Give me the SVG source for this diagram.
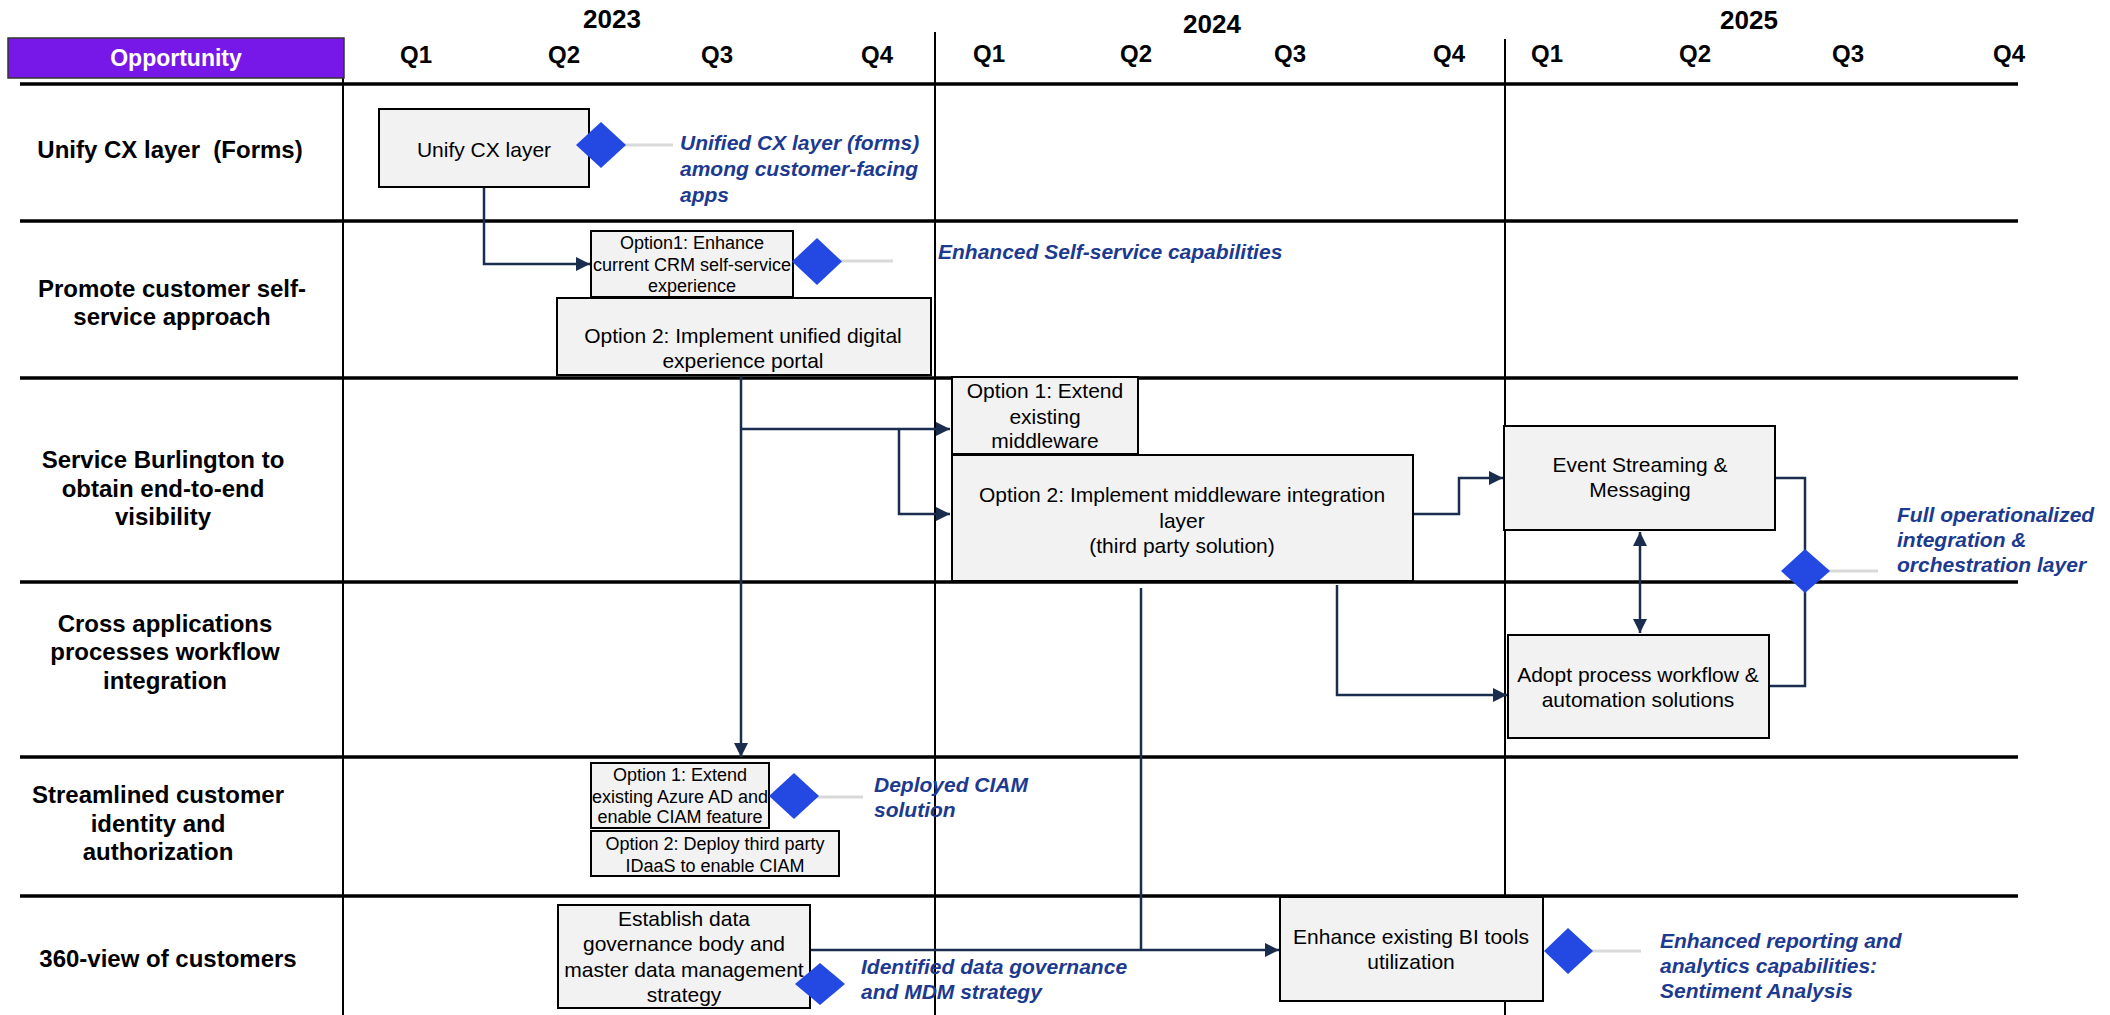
<svg xmlns="http://www.w3.org/2000/svg" width="2110" height="1015" viewBox="0 0 2110 1015">
<style>
text{font-family:"Liberation Sans",Arial,sans-serif}
.yr{font-size:26px;font-weight:bold;fill:#000;text-anchor:middle}
.q{font-size:24px;font-weight:bold;fill:#000;text-anchor:middle}
.lbl{font-size:24px;font-weight:bold;fill:#000;text-anchor:middle}
.bx{fill:#F2F2F2;stroke:#000;stroke-width:2}
.bt{font-size:21px;fill:#000;text-anchor:middle}
.st{font-size:18px;fill:#000;text-anchor:middle}
.ms{font-size:21px;font-weight:bold;font-style:italic;fill:#1C3A8F}
.dm{fill:#2349E2}
.gl{stroke:#D9D9D9;stroke-width:3}
.hl{stroke:#000;stroke-width:3.5}
.vl{stroke:#000;stroke-width:2}
.cn{fill:none;stroke:#1B2D4F;stroke-width:2.5}
</style>
<defs>
<marker id="arr" viewBox="0 0 10 10" refX="10" refY="5" markerWidth="14" markerHeight="15" markerUnits="userSpaceOnUse" orient="auto-start-reverse">
<path d="M0,0 L10,5 L0,10 z" fill="#1B2D4F"/>
</marker>
</defs>
<rect width="2110" height="1015" fill="#fff"/>

<g id="grid">
<line class="hl" x1="20" y1="84" x2="2018" y2="84"/>
<line class="hl" x1="20" y1="221" x2="2018" y2="221"/>
<line class="hl" x1="20" y1="378" x2="2018" y2="378"/>
<line class="hl" x1="20" y1="582" x2="2018" y2="582"/>
<line class="hl" x1="20" y1="757" x2="2018" y2="757"/>
<line class="hl" x1="20" y1="896" x2="2018" y2="896"/>
<line class="vl" x1="343" y1="78" x2="343" y2="1015"/>
<line class="vl" x1="935" y1="32" x2="935" y2="1015"/>
<line class="vl" x1="1505" y1="39" x2="1505" y2="1015"/>
</g>

<g id="header">
<rect x="8" y="38" width="336" height="40" fill="#7718E8" stroke="#333" stroke-width="1.5"/>
<text x="176" y="66" font-size="23" font-weight="bold" fill="#fff" text-anchor="middle">Opportunity</text>
<text class="yr" x="612" y="28">2023</text>
<text class="yr" x="1212" y="33">2024</text>
<text class="yr" x="1749" y="29">2025</text>
<text class="q" x="416" y="63">Q1</text>
<text class="q" x="564" y="63">Q2</text>
<text class="q" x="717" y="63">Q3</text>
<text class="q" x="877" y="63">Q4</text>
<text class="q" x="989" y="62">Q1</text>
<text class="q" x="1136" y="62">Q2</text>
<text class="q" x="1290" y="62">Q3</text>
<text class="q" x="1449" y="62">Q4</text>
<text class="q" x="1547" y="62">Q1</text>
<text class="q" x="1695" y="62">Q2</text>
<text class="q" x="1848" y="62">Q3</text>
<text class="q" x="2009" y="62">Q4</text>
</g>

<g id="row-labels">
<text class="lbl" x="170" y="158" xml:space="preserve">Unify CX layer  (Forms)</text>
<text class="lbl" x="172" y="297">Promote customer self-</text>
<text class="lbl" x="172" y="325">service approach</text>
<text class="lbl" x="163" y="468">Service Burlington to</text>
<text class="lbl" x="163" y="497">obtain end-to-end</text>
<text class="lbl" x="163" y="525">visibility</text>
<text class="lbl" x="165" y="632">Cross applications</text>
<text class="lbl" x="165" y="660">processes workflow</text>
<text class="lbl" x="165" y="689">integration</text>
<text class="lbl" x="158" y="803">Streamlined customer</text>
<text class="lbl" x="158" y="832">identity and</text>
<text class="lbl" x="158" y="860">authorization</text>
<text class="lbl" x="168" y="967">360-view of customers</text>
</g>

<g id="connectors">
<path class="cn" d="M484,187 V264 H590" marker-end="url(#arr)"/>
<path class="cn" d="M741,376 V757" marker-end="url(#arr)"/>
<path class="cn" d="M741,429 H950" marker-end="url(#arr)"/>
<path class="cn" d="M899,429 V514 H950" marker-end="url(#arr)"/>
<path class="cn" d="M1413,514 H1459 V478 H1503" marker-end="url(#arr)"/>
<path class="cn" d="M1337,585 V695 H1507" marker-end="url(#arr)"/>
<path class="cn" d="M1640,532 V633" marker-start="url(#arr)" marker-end="url(#arr)"/>
<path class="cn" d="M1775,478 H1805 V686 H1769"/>
<path class="cn" d="M1141,588 V950"/>
<path class="cn" d="M810,950 H1279" marker-end="url(#arr)"/>
</g>

<g id="milestone-lines">
<line class="gl" x1="620" y1="145" x2="673" y2="145"/>
<line class="gl" x1="835" y1="261" x2="893" y2="261"/>
<line class="gl" x1="1820" y1="571" x2="1878" y2="571"/>
<line class="gl" x1="810" y1="797" x2="863" y2="797"/>
<line class="gl" x1="1585" y1="951" x2="1641" y2="951"/>
</g>

<g id="n-unify">
<rect class="bx" x="379" y="109" width="210" height="78"/>
<text class="bt" x="484" y="157">Unify CX layer</text>
</g>
<g id="n-opt1-crm">
<rect class="bx" x="591" y="231" width="202" height="66"/>
<text class="st" x="692" y="249">Option1: Enhance</text>
<text class="st" x="692" y="271">current CRM self-service</text>
<text class="st" x="692" y="292">experience</text>
</g>
<g id="n-opt2-portal">
<rect class="bx" x="557" y="298" width="374" height="77"/>
<text class="bt" x="743" y="343">Option 2: Implement unified digital</text>
<text class="bt" x="743" y="368">experience portal</text>
</g>
<g id="n-opt1-mw">
<rect class="bx" x="952" y="377" width="186" height="77"/>
<text class="bt" x="1045" y="398">Option 1: Extend</text>
<text class="bt" x="1045" y="424">existing</text>
<text class="bt" x="1045" y="448">middleware</text>
</g>
<g id="n-opt2-mw">
<rect class="bx" x="952" y="455" width="461" height="126"/>
<text class="bt" x="1182" y="502">Option 2: Implement middleware integration</text>
<text class="bt" x="1182" y="528">layer</text>
<text class="bt" x="1182" y="553">(third party solution)</text>
</g>
<g id="n-event">
<rect class="bx" x="1504" y="426" width="271" height="104"/>
<text class="bt" x="1640" y="472">Event Streaming &amp;</text>
<text class="bt" x="1640" y="497">Messaging</text>
</g>
<g id="n-adopt">
<rect class="bx" x="1508" y="635" width="261" height="103"/>
<text class="bt" x="1638" y="682">Adopt process workflow &amp;</text>
<text class="bt" x="1638" y="707">automation solutions</text>
</g>
<g id="n-opt1-azure">
<rect class="bx" x="591" y="763" width="178" height="65"/>
<text class="st" x="680" y="781">Option 1: Extend</text>
<text class="st" x="680" y="803">existing Azure AD and</text>
<text class="st" x="680" y="823">enable CIAM feature</text>
</g>
<g id="n-opt2-idaas">
<rect class="bx" x="591" y="831" width="248" height="45"/>
<text class="st" x="715" y="850">Option 2: Deploy third party</text>
<text class="st" x="715" y="872">IDaaS to enable CIAM</text>
</g>
<g id="n-establish">
<rect class="bx" x="558" y="905" width="252" height="103"/>
<text class="bt" x="684" y="926">Establish data</text>
<text class="bt" x="684" y="951">governance body and</text>
<text class="bt" x="684" y="977">master data management</text>
<text class="bt" x="684" y="1002">strategy</text>
</g>
<g id="n-bi">
<rect class="bx" x="1280" y="897" width="263" height="104"/>
<text class="bt" x="1411" y="944">Enhance existing BI tools</text>
<text class="bt" x="1411" y="969">utilization</text>
</g>

<g id="milestones">
<g id="m-unified-cx">
<path class="dm" d="M601,122 L626,145 L601,168 L576,145 z"/>
<text class="ms" x="680" y="150">Unified CX layer (forms)</text>
<text class="ms" x="680" y="176">among customer-facing</text>
<text class="ms" x="680" y="202">apps</text>
</g>
<g id="m-self-service">
<path class="dm" d="M817,238 L842,261.5 L817,285 L792,261.5 z"/>
<text class="ms" x="938" y="259">Enhanced Self-service capabilities</text>
</g>
<g id="m-full-op">
<path class="dm" d="M1805,549 L1830,571 L1805,593 L1781,571 z"/>
<text class="ms" x="1897" y="522">Full operationalized</text>
<text class="ms" x="1897" y="547">integration &amp;</text>
<text class="ms" x="1897" y="572">orchestration layer</text>
</g>
<g id="m-ciam">
<path class="dm" d="M794,773 L819,796 L794,819 L769,796 z"/>
<text class="ms" x="874" y="792">Deployed CIAM</text>
<text class="ms" x="874" y="817">solution</text>
</g>
<g id="m-mdm">
<path class="dm" d="M820,963 L845,984 L820,1005 L795,984 z"/>
<text class="ms" x="861" y="974">Identified data governance</text>
<text class="ms" x="861" y="999">and MDM strategy</text>
</g>
<g id="m-reporting">
<path class="dm" d="M1568,928 L1593,951 L1568,974 L1544,951 z"/>
<text class="ms" x="1660" y="948">Enhanced reporting and</text>
<text class="ms" x="1660" y="973">analytics capabilities:</text>
<text class="ms" x="1660" y="998">Sentiment Analysis</text>
</g>
</g>
</svg>
